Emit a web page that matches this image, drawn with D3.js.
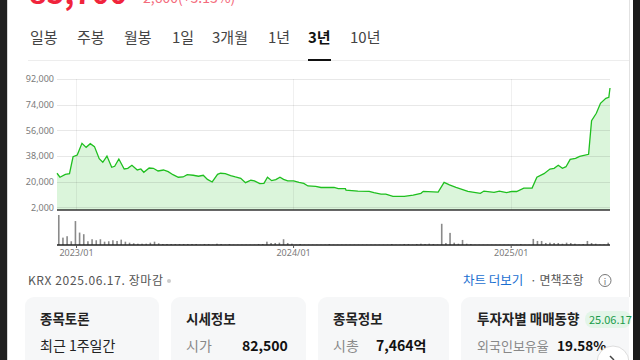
<!DOCTYPE html>
<html>
<head>
<meta charset="utf-8">
<script src="https://cdn.jsdelivr.net/npm/d3@7"></script>
<style>
  body { margin: 0; background: #fff; }
  svg { display: block; font-family: "Noto Sans CJK KR", "Noto Sans", sans-serif; }
</style>
</head>
<body>
<svg id="board" width="640" height="360"></svg>
<script>
// price line (3 year view), won
let priceDates = ['2022-11-30','2022-12-05','2022-12-14','2022-12-21','2022-12-27','2023-01-03','2023-01-11','2023-01-18','2023-01-25','2023-02-01',
  '2023-02-09','2023-02-15','2023-02-22','2023-03-02','2023-03-07','2023-03-14','2023-03-23','2023-03-29','2023-04-05','2023-04-14',
  '2023-04-20','2023-04-25','2023-05-04','2023-05-11','2023-05-19','2023-05-28','2023-06-05','2023-06-13','2023-06-22','2023-06-30',
  '2023-07-07','2023-07-17','2023-07-26','2023-08-03','2023-08-10','2023-08-18','2023-08-27','2023-09-01','2023-09-09','2023-09-18',
  '2023-09-26','2023-10-05','2023-10-13','2023-10-22','2023-10-28','2023-11-06','2023-11-13','2023-11-19','2023-11-26','2023-12-03',
  '2023-12-10','2023-12-16','2023-12-23','2024-01-02','2024-01-11','2024-01-19','2024-01-26','2024-02-08','2024-02-17','2024-03-10',
  '2024-03-17','2024-03-29','2024-03-30','2024-04-19','2024-05-08','2024-05-16','2024-05-28','2024-06-05','2024-06-17','2024-07-06',
  '2024-07-21','2024-08-03','2024-08-07','2024-09-01','2024-09-11','2024-09-20','2024-10-01','2024-10-21','2024-11-11','2024-11-17',
  '2024-12-04','2024-12-13','2024-12-25','2025-01-03','2025-01-11','2025-01-23','2025-02-06','2025-02-14','2025-02-26','2025-03-08',
  '2025-03-15','2025-03-22','2025-03-29','2025-04-04','2025-04-11','2025-04-20','2025-04-27','2025-05-12','2025-05-17','2025-05-25',
  '2025-06-01','2025-06-10','2025-06-15','2025-06-17']
let priceValues = [25800,23000,25000,25500,37400,38600,46800,44000,46600,44500,
  36000,33500,37900,30000,30700,35800,28800,29300,31400,28100,
  28800,26500,29500,29300,27400,28100,26900,24800,23000,23200,
  24800,24400,23700,24400,21500,19700,25000,25800,25500,24100,
  23200,22300,19200,20900,20400,18500,18700,23000,20600,21300,
  23000,21500,20400,20400,19400,18700,16900,16600,15800,15900,
  15000,15000,14000,13300,13100,12200,11200,11200,9600,9600,
  10500,11700,13100,12600,19400,17600,15900,13100,11700,13300,
  12400,13300,12200,13100,13000,15400,15400,23000,25500,28800,
  29300,31400,29300,30400,35600,36300,37700,39100,62700,67900,
  74900,78400,79100,85700]

// weekly volume, thousand shares, first week starting 2022-12-03
let volStart = '2022-12-03'
let volumes = [2970,730,870,370,2370,1230,1070,370,570,470,
  570,330,370,470,400,530,330,230,170,130,
  130,130,230,330,170,100,100,100,100,100,
  100,100,100,100,30,100,100,30,130,100,
  30,100,30,30,30,30,30,30,100,100,
  330,200,200,230,570,200,130,30,100,30,
  30,30,30,30,30,100,30,30,30,30,
  30,30,30,30,30,30,30,30,30,30,
  100,30,30,100,100,30,100,130,100,130,
  100,50,2100,200,1200,230,130,500,130,100,
  30,30,30,30,30,30,30,30,30,30,
  30,100,30,30,600,400,400,200,230,200,
  200,130,230,200,130,50,100,400,200,130,
  50,50,230]

let yTicks = [2000, 20000, 38000, 56000, 74000, 92000]
let xTickDates = ['2023-01-01', '2024-01-01', '2025-01-01']
let tabs = ['일봉', '주봉', '월봉', '1일', '3개월', '1년', '3년', '10년']
let tabX = [30, 77, 124, 172, 212, 268, 308, 350]

let parse = d3.timeParse('%Y-%m-%d')
let board = d3.select('#board')

// side frames of the screenshot
board.append('rect').attr('x', 0).attr('y', 0).attr('width', 7).attr('height', 360).attr('fill', '#1f1f1f')
board.append('rect').attr('x', 7).attr('y', 0).attr('width', 1).attr('height', 360).attr('fill', '#d6d6d6')
board.append('rect').attr('x', 629).attr('y', 0).attr('width', 1).attr('height', 360).attr('fill', '#e2e2e2')

// header price (cut off at top)
board.append('text').attr('x', 29).attr('y', 4).attr('font-size', 30).attr('font-weight', 700)
  .attr('fill', '#f0243c').text('85,700')
board.append('text').attr('x', 143).attr('y', 3).attr('font-size', 14)
  .attr('fill', '#f46b7c').text('2,600(+3.13%)')

// tabs
board.append('line').attr('x1', 28).attr('x2', 629).attr('y1', 60.5).attr('y2', 60.5).attr('stroke', '#ededed')
tabs.forEach((t, i) => {
  board.append('text').attr('x', tabX[i]).attr('y', 43).attr('font-size', 15)
    .attr('font-weight', t == '3년' ? 700 : 400)
    .attr('fill', t == '3년' ? '#111' : '#444').text(t)
})
board.append('rect').attr('x', 308).attr('y', 59).attr('width', 23).attr('height', 2).attr('fill', '#111')

// scales
let x = d3.scaleTime().domain([parse('2022-11-30'), parse('2025-06-17')]).range([57, 610])
let y = d3.scaleLinear().domain([0, 92000]).range([210, 79])
let vy = d3.scaleLinear().domain([0, d3.max(volumes)]).range([245, 215])

let priceData = priceDates.map((d, i) => ({ date: parse(d), value: priceValues[i] }))
let volData = volumes.map((v, i) => ({ date: d3.timeDay.offset(parse(volStart), 7 * i), value: v }))

// area + line
let area = d3.area().x(d => x(d.date)).y0(y(0)).y1(d => y(d.value))
let line = d3.line().x(d => x(d.date)).y(d => y(d.value))

board.append('path').datum(priceData).attr('d', area).attr('fill', '#dbf5db')

// grid
board.append('g').selectAll('line').data(yTicks).enter().append('line')
  .attr('x1', 57).attr('x2', 610)
  .attr('y1', d => Math.round(y(d)) + 0.5).attr('y2', d => Math.round(y(d)) + 0.5)
  .attr('stroke', 'rgba(0,0,0,0.09)')
board.append('g').selectAll('line').data(xTickDates).enter().append('line')
  .attr('x1', d => Math.round(x(parse(d))) + 0.5).attr('x2', d => Math.round(x(parse(d))) + 0.5)
  .attr('y1', 79).attr('y2', 210)
  .attr('stroke', 'rgba(0,0,0,0.06)')

board.append('path').datum(priceData).attr('d', line)
  .attr('fill', 'none').attr('stroke', '#1fbf1f').attr('stroke-width', 1.3)

// y axis labels
let yAxis = d3.axisLeft(y).tickValues(yTicks).tickFormat(d3.format(',')).tickSize(0).tickPadding(3)
let yg = board.append('g').attr('transform', 'translate(57,0)').call(yAxis)
yg.select('.domain').remove()
yg.selectAll('text').attr('font-size', 9).attr('fill', '#7a7a7a').attr('font-family', 'Noto Sans')

board.append('line').attr('x1', 57).attr('x2', 610).attr('y1', 210).attr('y2', 210)
  .attr('stroke', '#333').attr('stroke-width', 1.5)

// volume
board.append('g').selectAll('rect').data(volData).enter().append('rect')
  .attr('x', d => x(d.date) - 0.8).attr('width', 1.6)
  .attr('y', d => vy(d.value)).attr('height', d => 245 - vy(d.value))
  .attr('fill', '#8a8a8a')

let xAxis = d3.axisBottom(x).tickValues(xTickDates.map(parse)).tickFormat(d3.timeFormat('%Y/%m')).tickSize(3).tickPadding(2)
let xg = board.append('g').attr('transform', 'translate(0,245)').call(xAxis)
xg.select('.domain').attr('stroke', '#222').attr('stroke-width', 1.5).attr('d', 'M57,0H610')
xg.selectAll('.tick line').attr('stroke', '#555')
xg.selectAll('text').attr('font-size', 9).attr('fill', '#7a7a7a').attr('font-family', 'Noto Sans')

// info row
board.append('text').attr('x', 28).attr('y', 285).attr('font-size', 12).attr('fill', '#555')
  .attr('textLength', 135).attr('lengthAdjust', 'spacing')
  .text('KRX  2025.06.17. 장마감')
board.append('circle').attr('cx', 169).attr('cy', 281).attr('r', 2).attr('fill', '#ccc')
board.append('text').attr('x', 463).attr('y', 285).attr('font-size', 12.5).attr('fill', '#1a6fd1').text('차트 더보기')
board.append('text').attr('x', 530).attr('y', 285).attr('font-size', 12).attr('fill', '#555').text('· 면책조항')
board.append('circle').attr('cx', 605).attr('cy', 280.5).attr('r', 6).attr('fill', 'none').attr('stroke', '#777')
board.append('text').attr('x', 605).attr('y', 284.5).attr('font-size', 9).attr('text-anchor', 'middle').attr('fill', '#777').text('i')

// cards
let cardX = [25, 171, 318, 461]
let cardW = [134, 135, 131, 200]
cardX.forEach((cx, i) => {
  board.append('rect').attr('x', cx).attr('y', 297).attr('width', cardW[i]).attr('height', 90)
    .attr('rx', 9).attr('fill', '#f6f7f8')
})
board.append('rect').attr('x', 629).attr('y', 297).attr('width', 4).attr('height', 63).attr('fill', '#fff')

let cardTitles = ['종목토론', '시세정보', '종목정보', '투자자별 매매동향']
let titleX = [40, 186, 333, 477]
cardTitles.forEach((t, i) => {
  board.append('text').attr('x', titleX[i]).attr('y', 324).attr('font-size', 13.5).attr('font-weight', 700)
    .attr('fill', '#222').text(t)
})
board.append('rect').attr('x', 585).attr('y', 311).attr('width', 46).attr('height', 17).attr('rx', 8).attr('fill', '#e3f5e8')
board.append('text').attr('x', 589).attr('y', 324).attr('font-size', 11).attr('fill', '#1a9c4a').text('25.06.17')

board.append('text').attr('x', 40).attr('y', 351).attr('font-size', 14).attr('fill', '#222').text('최근 1주일간')
board.append('text').attr('x', 40).attr('y', 372).attr('font-size', 14).attr('fill', '#222').text('386개의')
board.append('text').attr('x', 186).attr('y', 351).attr('font-size', 14).attr('fill', '#888').text('시가')
board.append('text').attr('x', 242).attr('y', 351).attr('font-size', 14).attr('font-weight', 700).attr('fill', '#111').text('82,500')
board.append('text').attr('x', 333).attr('y', 351).attr('font-size', 14).attr('fill', '#888').text('시총')
board.append('text').attr('x', 376).attr('y', 351).attr('font-size', 14).attr('font-weight', 700).attr('fill', '#111').text('7,464억')
board.append('text').attr('x', 477).attr('y', 351).attr('font-size', 13).attr('fill', '#888').text('외국인보유율')
board.append('text').attr('x', 557).attr('y', 351).attr('font-size', 13.5).attr('font-weight', 700).attr('fill', '#111').text('19.58%')

// scroll button
board.append('circle').attr('cx', 613).attr('cy', 362).attr('r', 16).attr('fill', '#fff').attr('stroke', '#ddd')
board.append('path').attr('d', 'M610,356 L614,360').attr('stroke', '#444').attr('stroke-width', 1.5).attr('fill', 'none')

// side frame on top
board.append('rect').attr('x', 633).attr('y', 0).attr('width', 7).attr('height', 360).attr('fill', '#1b1b1b')
</script>
</body>
</html>
